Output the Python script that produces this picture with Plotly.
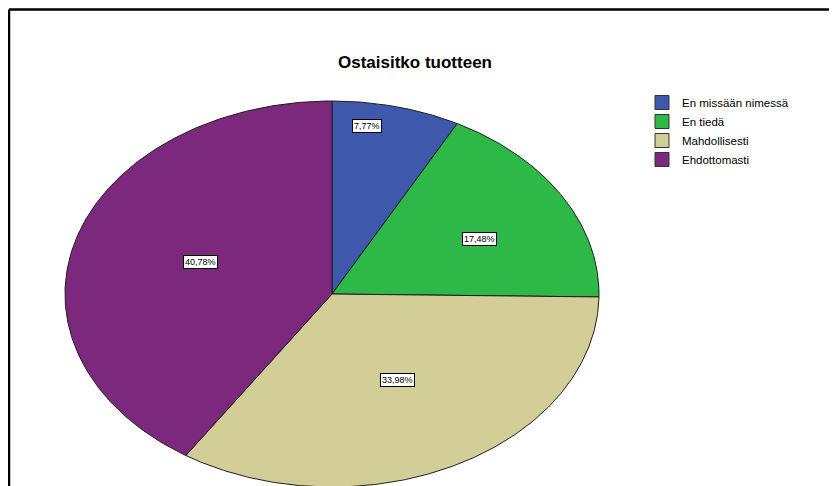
import numpy as np
import plotly.graph_objects as go

# ---- data ----
categories = ["En missään nimessä", "En tiedä", "Mahdollisesti", "Ehdottomasti"]
counts = [8, 18, 35, 42]
title_text = "Ostaisitko tuotteen"

# ---- styles ----
colors = ["#3E58AC", "#2EB848", "#D3CE97", "#7C287D"]
label_radius = [0.88, 0.62, 0.51, 0.52]
label_angle_shift = [-5.5, 3.4, -0.6, 2.1]

OFF = 8  # page body margin
W, H = 837 - OFF, 486 - OFF
cx_px, cy_px, rx_px, ry_px = 332 - OFF, 294 - OFF, 267, 193

total = sum(counts)
shares = [c / total for c in counts]

fig = go.Figure()
start = 0.0
for name, share, col, lr, sh in zip(categories, shares, colors, label_radius, label_angle_shift):
    end = start + share * 360.0
    th = np.radians(np.linspace(start, end, 200))
    xs = np.concatenate([[0], np.sin(th), [0]])
    ys = np.concatenate([[0], np.cos(th), [0]])
    fig.add_trace(go.Scatter(x=xs, y=ys, mode="lines", fill="toself", fillcolor=col,
                             line=dict(color="#1e1e1e", width=1), showlegend=False,
                             hoverinfo="skip"))
    mid = np.radians((start + end) / 2 + sh)
    pct = f"{share*100:.2f}".replace(".", ",") + "%"
    fig.add_annotation(x=lr * np.sin(mid), y=lr * np.cos(mid), text=pct, showarrow=False,
                       font=dict(family="Liberation Sans, Arial", size=9, color="black"),
                       bgcolor="white", bordercolor="black", borderwidth=1, borderpad=1)
    start = end

# legend entries
for name, col in zip(categories, colors):
    fig.add_trace(go.Scatter(x=[None], y=[None], mode="markers", name=name,
                             marker=dict(symbol="square", size=14, color=col,
                                         line=dict(color="#333", width=1))))

x0 = -cx_px / rx_px
x1 = x0 + W / rx_px
ytop = cy_px / ry_px
ybot = ytop - H / ry_px

fig.update_xaxes(range=[x0, x1], visible=False, fixedrange=True)
fig.update_yaxes(range=[ybot, ytop], visible=False, fixedrange=True)

fig.add_shape(type="line", xref="paper", yref="paper", x0=1 / W, x1=1, y0=1 - 1.5 / H, y1=1 - 1.5 / H,
              line=dict(color="black", width=2.5))
fig.add_shape(type="line", xref="paper", yref="paper", x0=1 / W, x1=1 / W, y0=0, y1=1 - 1.5 / H,
              line=dict(color="black", width=2.5))

fig.update_layout(
    width=W, height=H,
    margin=dict(l=0, r=0, t=0, b=0),
    paper_bgcolor="white", plot_bgcolor="white",
    title=dict(text="<b>" + title_text + "</b>", x=(415 - OFF) / W, xanchor="center",
               y=1 - (62 - OFF) / H, yanchor="middle",
               font=dict(family="Liberation Sans, Arial", size=17, color="black")),
    legend=dict(x=(642 - OFF) / W, y=1 - (88 - OFF) / H, xanchor="left", yanchor="top",
                font=dict(family="Liberation Sans, Arial", size=11.5, color="black"),
                tracegroupgap=0, itemwidth=30, bgcolor="rgba(0,0,0,0)"),
    showlegend=True,
)

fig.write_html("out.html")
